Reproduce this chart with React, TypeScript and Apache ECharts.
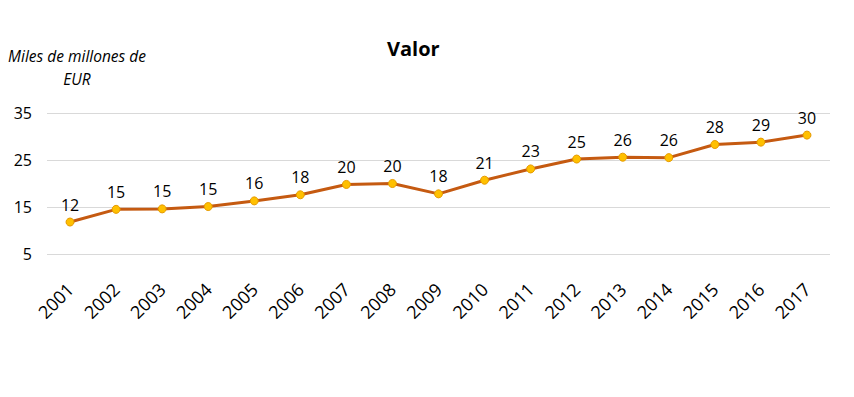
import React, { useEffect, useRef } from "react";
import * as echarts from "echarts";

const years = ["2001","2002","2003","2004","2005","2006","2007","2008","2009","2010","2011","2012","2013","2014","2015","2016","2017"];
const values = [11.8, 14.5, 14.6, 15.1, 16.3, 17.6, 19.8, 20.0, 17.8, 20.7, 23.1, 25.2, 25.6, 25.5, 28.3, 28.8, 30.3];
const yTicks = [5, 15, 25, 35];
const titleText = "Valor";
const yNameLines = ["Miles de millones de", "EUR"];

export default function App() {
  const ref = useRef<HTMLDivElement>(null);
  useEffect(() => {
    if (!ref.current) return;
    const chart = echarts.init(ref.current, null, { renderer: "svg" });
    const font = "'Open Sans', 'Noto Sans', sans-serif";
    chart.setOption({
      animation: false,
      backgroundColor: "#ffffff",
      title: {
        text: titleText,
        left: 382,
        top: 33,
        textStyle: { fontFamily: font, fontSize: 20, fontWeight: "bold", color: "#000" },
      },
      graphic: [
        {
          type: "text",
          x: 77,
          y: 44,
          style: {
            text: yNameLines.join("\n"),
            fontFamily: font,
            fontStyle: "italic",
            fontSize: 15.5,
            lineHeight: 23,
            align: "center",
            verticalAlign: "top",
            fill: "#000",
          },
        },
      ],
      grid: { left: 47, right: 24, top: 113, bottom: 143, containLabel: false },
      xAxis: {
        type: "category",
        data: years,
        boundaryGap: true,
        axisLine: { show: false },
        axisTick: { show: false },
        axisLabel: { rotate: 45, margin: 32, fontFamily: font, fontSize: 18, color: "#000", interval: 0 },
      },
      yAxis: {
        type: "value",
        min: yTicks[0],
        max: yTicks[yTicks.length - 1],
        interval: 10,
        axisLine: { show: false },
        axisTick: { show: false },
        splitLine: { lineStyle: { color: "#d9d9d9", width: 1 } },
        axisLabel: { margin: 15, fontFamily: font, fontSize: 16, color: "#000" },
      },
      series: [
        {
          type: "line",
          data: values,
          symbol: "circle",
          symbolSize: 8,
          lineStyle: { color: "#c55a11", width: 3 },
          itemStyle: { color: "#ffc000", borderColor: "#e69a00", borderWidth: 1 },
          label: {
            show: true,
            position: "top",
            distance: 5,
            fontFamily: font,
            fontSize: 16,
            color: "#000",
            formatter: (p: any) => String(Math.round(p.value)),
          },
        },
      ],
    });
    return () => chart.dispose();
  }, []);
  return <div ref={ref} style={{ position: "absolute", left: 0, top: 0, width: 854, height: 397 }} />;
}
